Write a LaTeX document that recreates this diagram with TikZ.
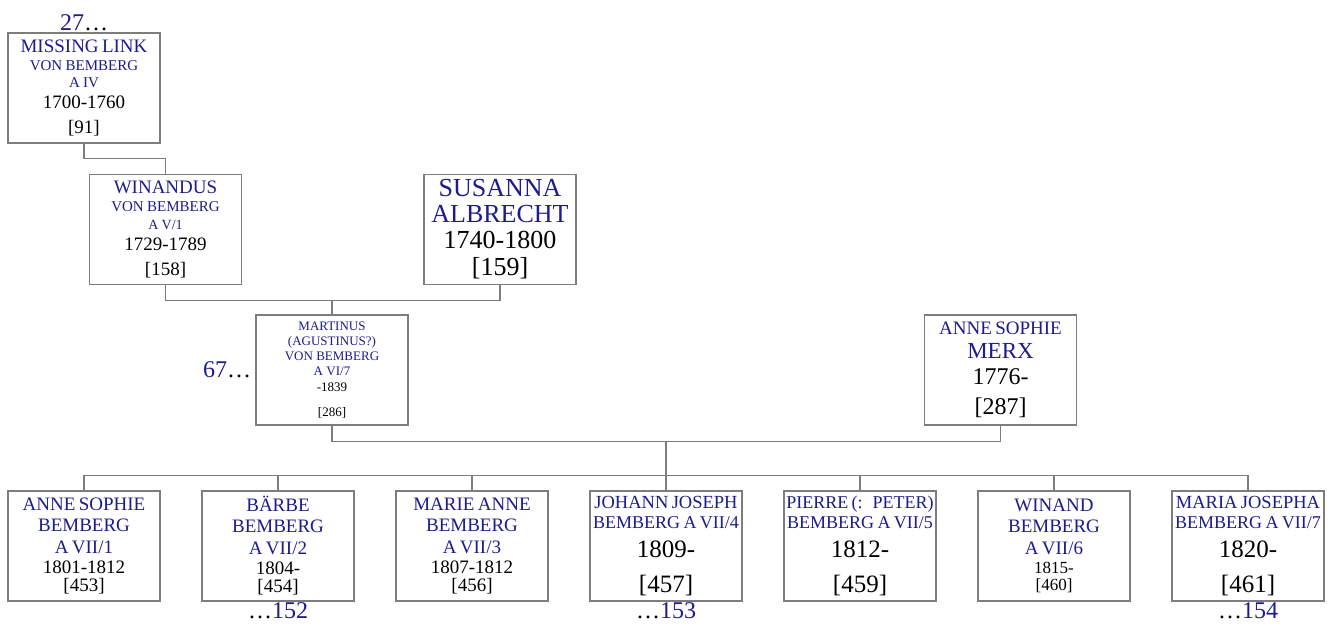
\documentclass[tikz,border=0pt]{standalone}
\usepackage{fontspec}
\setmainfont{Liberation Serif}
\usetikzlibrary{positioning,calc}
\definecolor{Ink}{RGB}{28,28,140}
\definecolor{Frame}{RGB}{125,125,125}
\newcommand{\nameline}[3]{\fontsize{#1}{#2}\selectfont\textcolor{Ink}{#3}\par}
\newcommand{\dateline}[3]{\fontsize{#1}{#2}\selectfont #3\par}
\begin{document}
\begin{tikzpicture}[x=1pt,y=-1pt,
  person/.style={draw=Frame,line width=1.2pt,fill=white,text width=150pt,inner sep=1pt,minimum height=110pt,align=center},
  link/.style={Frame,line width=1.2pt},
  more/.style={inner sep=1pt,font=\fontsize{24}{24}\selectfont,text=Ink}]
\useasboundingbox (0,0) rectangle (1338,628);
\node[person] (a) at (84,88) {\nameline{19}{19}{MISSING LINK}\nameline{15}{18}{VON BEMBERG}\nameline{15}{17}{A IV}\dateline{19}{21}{1700-1760}\dateline{19}{25}{[91]}};
\node[person] (win) at (165.5,229.5) {\nameline{19}{19}{WINANDUS}\nameline{15}{18}{VON BEMBERG}\nameline{14}{18}{A V/1}\dateline{19}{21}{1729-1789}\dateline{19}{25}{[158]}};
\node[person] (sus) at (500,229.5) {\nameline{26}{26}{SUSANNA}\nameline{26}{26}{ALBRECHT}\dateline{26}{26}{1740-1800}\dateline{26}{27}{[159]}};
\node[person] (mar) at (332,370) {\nameline{13}{13}{MARTINUS}\nameline{13}{15}{(AGUSTINUS?)}\nameline{13}{15}{VON BEMBERG}\nameline{13}{15}{A VI/7}\dateline{13}{16}{-1839}\dateline{13}{25}{[286]}\vspace*{12pt}};
\node[person] (merx) at (1000.5,370) {\nameline{19}{19}{ANNE SOPHIE}\nameline{23}{24}{MERX}\dateline{24}{26}{1776-}\dateline{24}{30}{[287]}};
\node[person] (c1) at (84,546) {\nameline{19}{19}{ANNE SOPHIE}\nameline{19}{21}{BEMBERG}\nameline{19}{22}{A VII/1}\dateline{19}{20}{1801-1812}\dateline{19}{18}{[453]}};
\node[person] (c2) at (278,546) {\nameline{19}{19}{BÄRBE}\nameline{19}{21}{BEMBERG}\nameline{19}{22}{A VII/2}\dateline{19}{20}{1804-}\dateline{19}{18}{[454]}};
\node[person] (c3) at (472,546) {\nameline{19}{19}{MARIE ANNE}\nameline{19}{21}{BEMBERG}\nameline{19}{22}{A VII/3}\dateline{19}{20}{1807-1812}\dateline{19}{18}{[456]}};
\node[person] (c4) at (666,546) {\nameline{18.5}{18}{JOHANN JOSEPH}\nameline{18}{20}{BEMBERG A VII/4}\dateline{25}{29}{1809-}\dateline{25}{35}{[457]}};
\node[person] (c5) at (860,546) {\nameline{18}{18}{PIERRE (:\hspace{10pt}PETER)}\nameline{18}{20}{BEMBERG A VII/5}\dateline{25}{29}{1812-}\dateline{25}{35}{[459]}};
\node[person] (c6) at (1054,546) {\nameline{19}{19}{WINAND}\nameline{19}{21}{BEMBERG}\nameline{19}{22}{A VII/6}\dateline{17}{19}{1815-}\dateline{17}{17}{[460]}};
\node[person] (c7) at (1248,546) {\nameline{18.5}{18}{MARIA JOSEPHA}\nameline{18}{20}{BEMBERG A VII/7}\dateline{25}{29}{1820-}\dateline{25}{35}{[461]}};
\node[more,above=0pt of a] (a-up) {27\textcolor{black}{\dots}};
\node[more,left=3pt of mar] (mar-up) {67\textcolor{black}{\dots}};
\node[more,below=0pt of c2] (c2-down) {\textcolor{black}{\dots}152};
\node[more,below=0pt of c4] (c4-down) {\textcolor{black}{\dots}153};
\node[more,below=0pt of c7] (c7-down) {\textcolor{black}{\dots}154};
\draw[link] (a.south) -- ++(0,15) -| (win.north);
\draw[link] (win.south) -- ++(0,15) coordinate (wed1) -| (sus.south);
\draw[link] (mar.north) -- (mar.north |- wed1);
\draw[link] (mar.south) -- ++(0,16) coordinate (wed2) -| (merx.south);
\coordinate (kids) at ($(c1.north)!.5!(c7.north)+(0,-15)$);
\draw[link] (kids |- wed2) -- (kids);
\draw[link] (c1.north) |- (kids) -| (c7.north);
\foreach \k in {c2,c3,c4,c5,c6} \draw[link] (\k.north) -- (\k.north |- kids);
\end{tikzpicture}
\end{document}
